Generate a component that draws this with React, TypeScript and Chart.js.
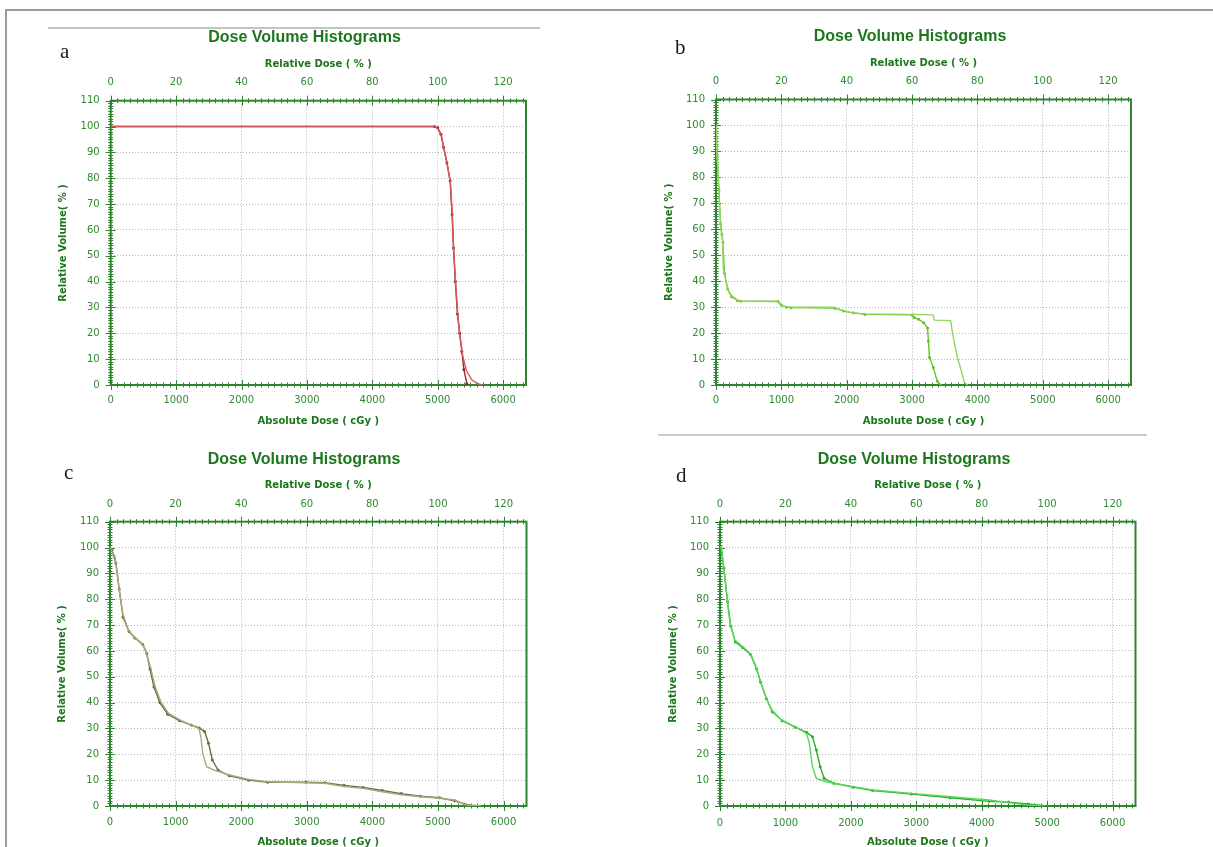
import React, { useEffect, useRef } from 'react';
import { Chart, registerables } from 'chart.js';

Chart.register(...registerables);

// ---- axes ----
const ABS_DOSE_TICKS = [0, 1000, 2000, 3000, 4000, 5000, 6000];
const REL_DOSE_TICKS = [0, 20, 40, 60, 80, 100, 120];
const VOLUME_TICKS = [0, 10, 20, 30, 40, 50, 60, 70, 80, 90, 100, 110];
const ABS_DOSE_MAX = 6350;
const REL_DOSE_MAX = 127;
const VOLUME_MAX = 110;

// ---- panel a ----
const A1_DOSE = [0, 4950, 5000, 5050, 5090, 5140, 5190, 5220, 5241, 5270, 5302, 5335, 5369, 5400, 5446];
const A1_VOL = [100, 100, 99.5, 97, 92, 86, 79, 66, 53, 40, 27.5, 20, 13, 6, 0.5];
const A2_DOSE = [0, 4960, 5010, 5060, 5100, 5150, 5195, 5225, 5245, 5275, 5308, 5345, 5385, 5440, 5520, 5600, 5680];
const A2_VOL = [100, 100, 99, 96, 91, 85, 78, 65, 52, 39, 27, 18, 11, 5.5, 2, 0.6, 0];

// ---- panel b ----
const B1_DOSE = [0, 5, 10, 35, 60, 86, 100, 110, 160, 210, 313, 360, 940, 980, 1050, 1120, 1800, 1900, 2050, 2263, 3000, 3320, 3340, 3590, 3620, 3651, 3700, 3740, 3800, 3850];
const B1_VOL = [100, 97, 92, 79, 66, 58, 57.5, 45, 39, 35, 33, 32.3, 32.3, 31, 30.3, 30, 30, 29, 28, 27.4, 27.2, 27, 25, 24.8, 20, 15.8, 10, 6.7, 1, 0];
const B2_DOSE = [0, 8, 20, 45, 70, 90, 105, 130, 180, 240, 330, 380, 950, 1000, 1080, 1150, 1820, 1950, 2100, 2280, 3000, 3032, 3100, 3178, 3237, 3250, 3267, 3326, 3385, 3432];
const B2_VOL = [100, 95, 88, 75, 62, 58, 55, 43, 37, 34, 32.5, 32.3, 32.2, 30.8, 30, 29.8, 29.6, 28.5, 27.8, 27.2, 27, 26, 25.3, 24, 22, 17, 10.6, 6.7, 1.5, 0];

// ---- panel c ----
const C1_DOSE = [0, 76, 134, 192, 279, 367, 483, 541, 629, 687, 774, 890, 1065, 1240, 1356, 1385, 1414, 1472, 1589, 1822, 2113, 2404, 2986, 3277, 3568, 3859, 4150, 4441, 4732, 5023, 5255, 5430, 5663];
const C1_VOL = [100, 96.5, 85, 74.6, 68, 65.5, 63, 60.4, 52.6, 46.2, 40.4, 35.9, 33.3, 31.3, 30, 26.8, 20.4, 15.2, 13.9, 12, 10.3, 9.4, 9, 8.8, 7.5, 6.8, 5.5, 4.3, 3.6, 3, 2.3, 0.4, 0];
const C2_DOSE = [0, 30, 90, 140, 200, 290, 380, 500, 560, 610, 670, 760, 880, 1060, 1240, 1360, 1443, 1502, 1560, 1647, 1822, 2113, 2404, 2986, 3277, 3568, 3859, 4150, 4441, 4732, 5023, 5255, 5400, 5560];
const C2_VOL = [100, 99, 94, 84, 73, 67.5, 65, 62.5, 59, 53, 46, 40, 35.5, 33, 31.3, 30.2, 28.8, 24.3, 17.8, 13.9, 11.7, 10, 9.2, 9.2, 9, 8, 7.2, 6, 4.8, 3.8, 3.2, 2, 0.8, 0];

// ---- panel d ----
const D1_DOSE = [0, 18, 47, 107, 154, 226, 344, 463, 552, 611, 700, 789, 938, 1145, 1323, 1365, 1413, 1472, 1620, 2036, 2332, 2926, 3519, 4113, 4410, 4706, 4944];
const D1_VOL = [100, 100.4, 95, 81, 70.7, 64.2, 61.7, 59, 54, 48.8, 42.3, 37.2, 33.3, 30.7, 28.1, 24.3, 15.2, 10.7, 9.4, 7.5, 6.2, 4.9, 3.6, 2.3, 1.3, 0.4, 0];
const D2_DOSE = [0, 25, 60, 115, 165, 235, 350, 470, 560, 620, 710, 800, 950, 1150, 1323, 1413, 1472, 1531, 1591, 1739, 2036, 2332, 2926, 3519, 4113, 4410, 4706, 5000];
const D2_VOL = [100, 98, 92, 79, 69.5, 63.5, 61.2, 58.5, 53, 48, 41.5, 36.5, 33, 30.5, 28.5, 26.8, 21.7, 15.2, 10.7, 8.8, 7.3, 6, 4.6, 3.2, 1.8, 1.5, 0.8, 0];

const PANEL_TITLE = 'Dose Volume Histograms';
const TOP_AXIS_TITLE = 'Relative Dose ( % )';
const BOTTOM_AXIS_TITLE = 'Absolute Dose ( cGy )';
const LEFT_AXIS_TITLE = 'Relative Volume( % )';

const FRAME = '#2f842f';
const TITLE_COLOR = '#1c761c';
const LABEL_COLOR = '#2e8b2e';
const GRID = 'rgba(150,150,150,0.7)';
const SANS = 'DejaVu Sans';

type Series = { dose: number[]; vol: number[]; color: string; markers: boolean };
type Geo = {
  plotL: number; plotR: number; plotT: number; plotB: number;
  titleX: number; titleY: number; yTitleX: number; relY: number;
  topTickY: number; bottomTickY: number; absY: number;
};
type PanelSpec = { letter: string; letterX: number; letterBase: number; geo: Geo; series: Series[] };

const PANELS: PanelSpec[] = [
  {
    letter: 'a', letterX: 60, letterBase: 58.5,
    geo: { plotL: 110.7, plotR: 526, plotT: 100.7, plotB: 385, titleX: 304.5, titleY: 38, yTitleX: 63, relY: 64, topTickY: 82.7, bottomTickY: 400, absY: 420.7 },
    series: [
      { dose: A2_DOSE, vol: A2_VOL, color: '#d45a5a', markers: false },
      { dose: A1_DOSE, vol: A1_VOL, color: '#a31f24', markers: true },
    ],
  },
  {
    letter: 'b', letterX: 675, letterBase: 55,
    geo: { plotL: 716, plotR: 1131, plotT: 99.5, plotB: 385, titleX: 910, titleY: 36.7, yTitleX: 668.5, relY: 63.3, topTickY: 81.7, bottomTickY: 400, absY: 420.7 },
    series: [
      { dose: B1_DOSE, vol: B1_VOL, color: '#93d65e', markers: false },
      { dose: B2_DOSE, vol: B2_VOL, color: '#66c22e', markers: true },
    ],
  },
  {
    letter: 'c', letterX: 64, letterBase: 480,
    geo: { plotL: 110, plotR: 526.5, plotT: 521.7, plotB: 806, titleX: 304, titleY: 459.3, yTitleX: 62.4, relY: 485, topTickY: 504, bottomTickY: 822.7, absY: 841.7 },
    series: [
      { dose: C1_DOSE, vol: C1_VOL, color: '#a9a97a', markers: false },
      { dose: C2_DOSE, vol: C2_VOL, color: '#6b6b45', markers: true },
    ],
  },
  {
    letter: 'd', letterX: 676, letterBase: 483,
    geo: { plotL: 720, plotR: 1135.5, plotT: 521.7, plotB: 806, titleX: 914, titleY: 459.3, yTitleX: 673, relY: 485, topTickY: 504, bottomTickY: 823, absY: 842 },
    series: [
      { dose: D1_DOSE, vol: D1_VOL, color: '#5bd65b', markers: false },
      { dose: D2_DOSE, vol: D2_VOL, color: '#27b027', markers: true },
    ],
  },
];

const frameTicksPlugin = {
  id: 'frameTicks',
  beforeDatasetsDraw(chart: any) {
    const { ctx, chartArea, scales } = chart;
    const { left, right, top, bottom } = chartArea;
    const x = scales.x, x2 = scales.x2, y = scales.y;
    ctx.save();
    ctx.strokeStyle = FRAME;
    ctx.lineWidth = 1;
    ctx.beginPath();
    for (let v = 0; v <= x.max; v += 100) {
      const p = Math.round(x.getPixelForValue(v)) + 0.5;
      const len = v % 1000 === 0 ? 5 : 2.5;
      ctx.moveTo(p, bottom - len);
      ctx.lineTo(p, bottom + len);
    }
    for (let v = 0; v <= x2.max; v += 2) {
      const p = Math.round(x2.getPixelForValue(v)) + 0.5;
      const len = v % 20 === 0 ? 5 : 2.5;
      ctx.moveTo(p, top - len);
      ctx.lineTo(p, top + len);
    }
    for (let v = 0; v <= y.max; v += 1) {
      const p = Math.round(y.getPixelForValue(v)) + 0.5;
      const len = v % 10 === 0 ? 5 : 2.5;
      ctx.moveTo(left - len, p);
      ctx.lineTo(left + len, p);
    }
    ctx.stroke();
    ctx.lineWidth = 2;
    ctx.strokeRect(left, top, right - left, bottom - top);
    ctx.restore();
  },
};

function Panel({ spec }: { spec: PanelSpec }) {
  const ref = useRef<HTMLCanvasElement>(null);
  const g = spec.geo;
  const left = Math.round(g.yTitleX - 10);
  const width = Math.round(2 * (g.titleX - left));
  const top = Math.round(g.titleY - 15.6);
  const bottom = Math.round(g.absY + 10);
  const height = bottom - top;
  const yAxisW = g.plotL - left;
  const rightW = left + width - g.plotR;
  const titleBoxBottom = top + 27.2;
  const topAxisH = g.plotT - titleBoxBottom;
  const bottomAxisH = bottom - g.plotB;
  const relPadTop = g.relY - titleBoxBottom - 6;
  const topTickPad = g.plotT - g.topTickY - 6;
  const bottomTickPad = g.bottomTickY - g.plotB - 6;

  useEffect(() => {
    const tickFont = { family: SANS, size: 10 };
    const axisTitleFont = { family: SANS, size: 10, weight: 'bold' as const };
    const chart = new Chart(ref.current as HTMLCanvasElement, {
      type: 'line',
      data: {
        datasets: spec.series.map((s) => ({
          data: s.dose.map((d, i) => ({ x: d, y: s.vol[i] })),
          borderColor: s.color,
          backgroundColor: s.color,
          borderWidth: 1.4,
          pointRadius: s.markers ? (c: any) => (c.dataIndex === 0 ? 0 : 1.5) : 0,
          pointBorderWidth: 0,
          pointHoverRadius: 0,
          tension: 0,
          fill: false,
          xAxisID: 'x',
          yAxisID: 'y',
        })),
      },
      options: {
        animation: false,
        responsive: false,
        events: [],
        layout: { padding: 0 },
        plugins: {
          legend: { display: false },
          tooltip: { enabled: false },
          title: {
            display: true,
            text: PANEL_TITLE,
            color: TITLE_COLOR,
            font: { family: 'Liberation Sans', size: 16, weight: 'bold' },
            padding: { top: 6, bottom: 2 },
          },
        },
        scales: {
          x: {
            type: 'linear',
            position: 'bottom',
            min: 0,
            max: ABS_DOSE_MAX,
            afterBuildTicks: (s: any) => { s.ticks = ABS_DOSE_TICKS.map((v) => ({ value: v })); },
            afterFit: (s: any) => { s.height = bottomAxisH; },
            ticks: { color: LABEL_COLOR, font: tickFont, padding: bottomTickPad, maxRotation: 0, autoSkip: false, callback: (v: any) => String(v) },
            grid: { color: (c: any) => (c.tick && c.tick.value > 0 ? GRID : 'transparent'), drawTicks: false, lineWidth: 1 },
            border: { display: false, dash: [1, 2] },
            title: { display: true, text: BOTTOM_AXIS_TITLE, color: TITLE_COLOR, font: axisTitleFont, padding: { top: 0, bottom: 4 } },
          },
          x2: {
            type: 'linear',
            position: 'top',
            min: 0,
            max: REL_DOSE_MAX,
            afterBuildTicks: (s: any) => { s.ticks = REL_DOSE_TICKS.map((v) => ({ value: v })); },
            afterFit: (s: any) => { s.height = topAxisH; },
            ticks: { color: LABEL_COLOR, font: tickFont, padding: topTickPad, maxRotation: 0, autoSkip: false, callback: (v: any) => String(v) },
            grid: { display: false, drawTicks: false },
            border: { display: false },
            title: { display: true, text: TOP_AXIS_TITLE, color: TITLE_COLOR, font: axisTitleFont, padding: { top: relPadTop, bottom: 0 } },
          },
          y: {
            type: 'linear',
            position: 'left',
            min: 0,
            max: VOLUME_MAX,
            afterBuildTicks: (s: any) => { s.ticks = VOLUME_TICKS.map((v) => ({ value: v })); },
            afterFit: (s: any) => { s.width = yAxisW; },
            ticks: { color: LABEL_COLOR, font: tickFont, padding: 11, autoSkip: false, callback: (v: any) => String(v) },
            grid: { color: (c: any) => (c.tick && c.tick.value > 0 && c.tick.value < VOLUME_MAX ? GRID : 'transparent'), drawTicks: false, lineWidth: 1 },
            border: { display: false, dash: [1, 2] },
            title: { display: true, text: LEFT_AXIS_TITLE, color: TITLE_COLOR, font: axisTitleFont, padding: { top: 4, bottom: 0 } },
          },
          yr: {
            type: 'linear',
            position: 'right',
            display: true,
            ticks: { display: false },
            grid: { display: false, drawTicks: false },
            border: { display: false },
            afterFit: (s: any) => { s.width = rightW; },
          },
        },
      } as any,
      plugins: [frameTicksPlugin],
    });
    return () => chart.destroy();
  }, []);

  return (
    <>
      <canvas ref={ref} width={width} height={height} style={{ position: 'absolute', left, top, width, height }} />
      <div
        style={{
          position: 'absolute',
          left: spec.letterX,
          top: spec.letterBase - 17.6,
          fontFamily: 'Liberation Serif',
          fontSize: 21,
          lineHeight: '21px',
          color: '#1a1a1a',
        }}
      >
        {spec.letter}
      </div>
    </>
  );
}

export default function App() {
  return (
    <div style={{ position: 'absolute', left: 0, top: 0, width: 1213, height: 847, overflow: 'hidden', background: '#fff' }}>
      <div style={{ position: 'absolute', left: 5, top: 9, width: 1208, height: 2, background: '#9b9b9b' }} />
      <div style={{ position: 'absolute', left: 5, top: 9, width: 2, height: 838, background: '#9b9b9b' }} />
      <div style={{ position: 'absolute', left: 48, top: 27, width: 492, height: 1.5, background: '#c4c4c4' }} />
      <div style={{ position: 'absolute', left: 658, top: 434, width: 489, height: 1.5, background: '#cccccc' }} />
      {PANELS.map((p) => (
        <Panel key={p.letter} spec={p} />
      ))}
    </div>
  );
}
